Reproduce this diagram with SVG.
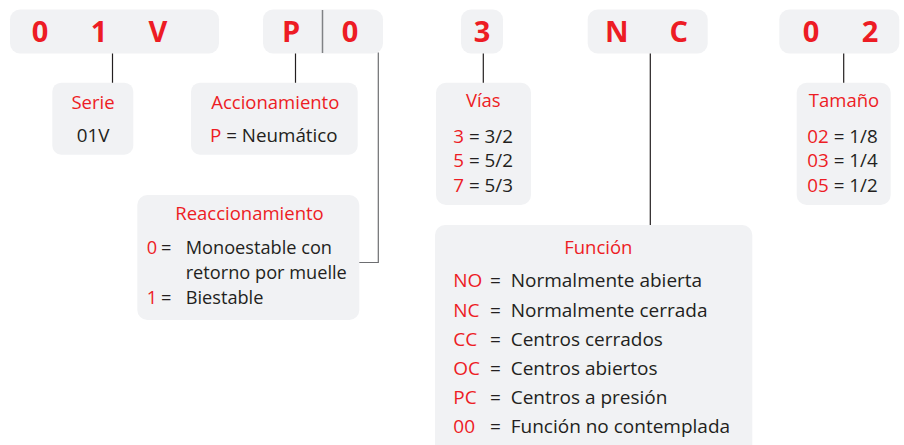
<svg xmlns="http://www.w3.org/2000/svg" width="904" height="445" viewBox="0 0 904 445">
<style>
.box{fill:#f1f2f4}
.code{font-family:"Open Sans","Noto Sans",sans-serif;font-weight:bold;font-size:29px;fill:#ed1c24;text-anchor:middle}
.hd{font-family:"Open Sans","Noto Sans",sans-serif;font-size:18.5px;fill:#ed1c24;text-anchor:middle}
.tx{font-family:"Open Sans","Noto Sans",sans-serif;font-size:18.8px;fill:#231f20}
.fx{font-size:19px}
.rx{font-size:18.2px}
.r{fill:#ed1c24}
.ln{stroke:#231f20;stroke-width:1.2;fill:none}
.lg{stroke:#6d6e71;stroke-width:1.2;fill:none}
</style>
<g id="code-01V">
<rect class="box" x="10" y="9.5" width="209" height="44" rx="10"/>
<text class="code" x="40" y="42">0</text>
<text class="code" x="99" y="42">1</text>
<text class="code" x="158" y="42">V</text>
</g>
<g id="code-P0">
<rect class="box" x="263" y="9.5" width="120" height="44" rx="10"/>
<line x1="322.5" y1="10" x2="322.5" y2="53" stroke="#808285" stroke-width="1.5"/>
<text class="code" x="291" y="42">P</text>
<text class="code" x="350" y="42">0</text>
</g>
<g id="code-3">
<rect class="box" x="461" y="9.5" width="42" height="44" rx="10"/>
<text class="code" x="482" y="42">3</text>
</g>
<g id="code-NC">
<rect class="box" x="587.7" y="9.5" width="120" height="44" rx="10"/>
<text class="code" x="616.7" y="42">N</text>
<text class="code" x="678.7" y="42">C</text>
</g>
<g id="code-02">
<rect class="box" x="779.3" y="9.5" width="120" height="44" rx="10"/>
<text class="code" x="811" y="42">0</text>
<text class="code" x="870" y="42">2</text>
</g>
<g id="connectors">
<line class="ln" x1="112.5" y1="53.5" x2="112.5" y2="83"/>
<line class="ln" x1="295.5" y1="53.5" x2="295.5" y2="83"/>
<polyline class="lg" points="378.3,52.5 378.3,262.5 359,262.5"/>
<line class="ln" x1="483.3" y1="53.5" x2="483.3" y2="83"/>
<line class="ln" x1="650.3" y1="53.5" x2="650.3" y2="225"/>
<line class="ln" x1="843.7" y1="53.5" x2="843.7" y2="83"/>
</g>
<g id="serie">
<rect class="box" x="52.3" y="82.7" width="81" height="72" rx="9"/>
<text class="hd" x="93" y="108.7">Serie</text>
<text class="tx" x="93" y="142" text-anchor="middle">01V</text>
</g>
<g id="accionamiento">
<rect class="box" x="191" y="82.7" width="166.7" height="72" rx="9"/>
<text class="hd" x="275.3" y="109">Accionamiento</text>
<text class="tx" x="210" y="142"><tspan class="r">P</tspan> = Neumático</text>
</g>
<g id="reaccionamiento">
<rect class="box" x="137.3" y="195" width="222" height="125" rx="10"/>
<text class="hd" x="249.5" y="220">Reaccionamiento</text>
<text class="tx rx r" x="146.7" y="254">0</text>
<text class="tx rx" x="161" y="254">=</text>
<text class="tx rx" x="185.7" y="254">Monoestable con</text>
<text class="tx rx" x="185.7" y="279.3">retorno por muelle</text>
<text class="tx rx r" x="146.7" y="304">1</text>
<text class="tx rx" x="161" y="304">=</text>
<text class="tx rx" x="185.7" y="304">Biestable</text>
</g>
<g id="vias">
<rect class="box" x="436" y="82.7" width="95" height="122.3" rx="10"/>
<text class="hd" x="483.3" y="107.3">Vías</text>
<text class="tx" x="453.3" y="142.7"><tspan class="r">3</tspan> = 3/2</text>
<text class="tx" x="453.3" y="167.3"><tspan class="r">5</tspan> = 5/2</text>
<text class="tx" x="453.3" y="192"><tspan class="r">7</tspan> = 5/3</text>
</g>
<g id="tamano">
<rect class="box" x="796.7" y="82.7" width="94" height="122.3" rx="10"/>
<text class="hd" x="844" y="107.3">Tamaño</text>
<text class="tx" x="807.3" y="142.7"><tspan class="r">02</tspan> = 1/8</text>
<text class="tx" x="807.3" y="167.3"><tspan class="r">03</tspan> = 1/4</text>
<text class="tx" x="807.3" y="192"><tspan class="r">05</tspan> = 1/2</text>
</g>
<g id="funcion">
<rect class="box" x="435" y="225" width="317.3" height="235" rx="10"/>
<text class="hd" x="598.3" y="254">Función</text>
<text class="tx fx r" x="453.3" y="287.3">NO</text><text class="tx fx" x="490" y="287.3">=</text><text class="tx fx" x="510.7" y="287.3">Normalmente abierta</text>
<text class="tx fx r" x="453.3" y="316.5">NC</text><text class="tx fx" x="490" y="316.5">=</text><text class="tx fx" x="510.7" y="316.5">Normalmente cerrada</text>
<text class="tx fx r" x="453.3" y="345.7">CC</text><text class="tx fx" x="490" y="345.7">=</text><text class="tx fx" x="510.7" y="345.7">Centros cerrados</text>
<text class="tx fx r" x="453.3" y="375">OC</text><text class="tx fx" x="490" y="375">=</text><text class="tx fx" x="510.7" y="375">Centros abiertos</text>
<text class="tx fx r" x="453.3" y="404.2">PC</text><text class="tx fx" x="490" y="404.2">=</text><text class="tx fx" x="510.7" y="404.2">Centros a presión</text>
<text class="tx fx r" x="453.3" y="433.3">00</text><text class="tx fx" x="490" y="433.3">=</text><text class="tx fx" x="510.7" y="433.3">Función no contemplada</text>
</g>
</svg>
